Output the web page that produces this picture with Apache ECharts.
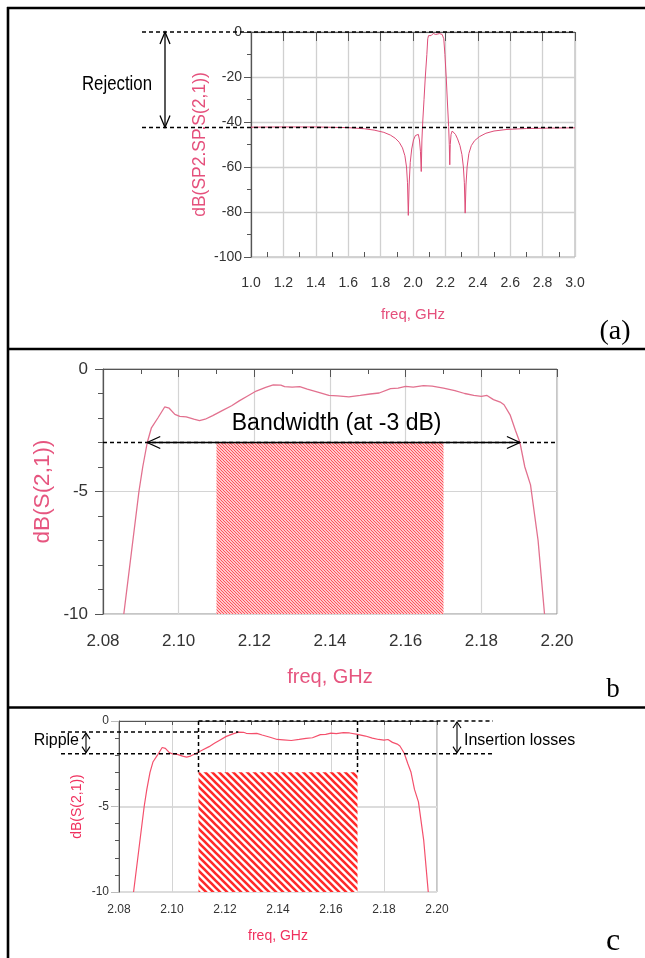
<!DOCTYPE html>
<html><head><meta charset="utf-8">
<script src="https://cdn.jsdelivr.net/npm/echarts@6/dist/echarts.min.js"></script>
<style>html,body{margin:0;padding:0;background:#fff}#c{width:645px;height:958px}</style>
</head><body><div id="c"></div>
<script>
// ---------- Panel (a): wide-band response ----------
const freqA = [1.00,1.20,1.40,1.60,1.70,1.76,1.82,1.86,1.89,1.915,1.935,1.950,1.960,1.966,1.971,1.976,1.983,1.992,2.003,2.015,2.025,2.033,2.040,2.046,2.051,2.055,2.060,2.068,2.076,2.0855,2.091,2.096,2.101,2.106,2.112,2.125,2.140,2.164,2.180,2.187,2.190,2.197,2.205,2.213,2.220,2.224,2.227,2.230,2.235,2.242,2.250,2.262,2.275,2.290,2.302,2.311,2.317,2.322,2.327,2.334,2.345,2.360,2.380,2.410,2.450,2.500,2.580,2.700,2.850,3.000];
const dbA   = [-42.3,-42.2,-42.2,-42.5,-43.0,-43.6,-44.6,-45.8,-47.2,-49.0,-51.5,-55.0,-60.0,-67.0,-81.5,-68.0,-58.0,-52.0,-48.0,-46.0,-45.2,-45.5,-48.0,-53.0,-62.0,-48.0,-40.0,-30.0,-20.0,-10.0,-3.0,-1.6,-2.0,-2.1,-1.6,-0.65,-1.1,-0.7,-1.1,-1.8,-3.0,-10.0,-20.0,-32.0,-42.0,-50.0,-59.0,-50.0,-45.5,-44.0,-44.2,-45.5,-47.5,-50.5,-54.5,-60.0,-67.0,-80.5,-68.0,-60.0,-54.0,-50.5,-48.3,-46.5,-45.0,-44.0,-43.3,-42.9,-42.7,-42.6];
const xRangeA = [1.0, 3.0];
const yRangeA = [-100, 0];
const xStepA = 0.2, yStepA = 20;
const rejectionLevel = -42.4;
const passTop = 0;

// ---------- Panels (b) and (c): pass-band detail ----------
const freqB = [2.0855,2.0875,2.0895,2.0905,2.0917,2.0928,2.0945,2.0963,2.0975,2.0990,2.1003,2.1020,2.1040,2.1055,2.1070,2.1090,2.1115,2.1140,2.1160,2.1180,2.1205,2.1230,2.1250,2.1270,2.1280,2.1300,2.1320,2.1340,2.1370,2.1397,2.1420,2.1450,2.1480,2.1506,2.1530,2.1560,2.1580,2.1600,2.1620,2.1647,2.1670,2.1700,2.1730,2.1756,2.1780,2.1800,2.1815,2.1832,2.1850,2.1860,2.1876,2.1890,2.1902,2.1915,2.1930,2.1950,2.1967];
const dbB   = [-10,-7.5,-5.0,-4.0,-3.0,-2.4,-2.0,-1.55,-1.6,-1.85,-1.93,-1.95,-2.05,-2.11,-2.05,-1.9,-1.7,-1.5,-1.3,-1.12,-0.9,-0.75,-0.65,-0.66,-0.72,-0.74,-0.72,-0.82,-0.95,-1.08,-1.1,-1.14,-1.08,-1.02,-0.98,-0.8,-0.78,-0.71,-0.74,-0.68,-0.7,-0.78,-0.88,-1.0,-1.08,-1.12,-1.08,-1.25,-1.35,-1.46,-1.87,-2.5,-3.0,-4.0,-4.73,-7.0,-10];
const xRangeB = [2.08, 2.20];
const yRangeB = [-10, 0];
const xStepB = 0.02, yStepB = 5;
const bwLevel = -3;
const bwEdges = [2.0917, 2.1902];
const band = [2.11, 2.17];
const rippleLevels = [-0.65, -1.91];
const rippleMaxFreq = 2.125;

const SANS = "'Liberation Sans',Arial,sans-serif";
const SERIF = "'Liberation Serif','Times New Roman',serif";

function hatch(s, lw, color) {
  const c = document.createElement('canvas');
  c.width = s; c.height = s;
  const ctx = c.getContext('2d');
  ctx.fillStyle = '#ffffff'; ctx.fillRect(0, 0, s, s);
  ctx.strokeStyle = color; ctx.lineWidth = lw;
  ctx.beginPath();
  ctx.moveTo(-s, 0); ctx.lineTo(s, 2 * s);
  ctx.moveTo(0, 0); ctx.lineTo(s, s);
  ctx.moveTo(0, -s); ctx.lineTo(2 * s, s);
  ctx.stroke();
  return { image: c, repeat: 'repeat' };
}

const zip = (xs, ys) => xs.map((x, i) => [x, ys[i]]);
const chart = echarts.init(document.getElementById('c'), null, { renderer: 'canvas' });

const option = {
  animation: false,
  backgroundColor: '#ffffff',
  grid: [
    { left: 251, top: 32, width: 324, height: 225, show: true, borderColor: '#a8a8a8', borderWidth: 1, outerBoundsMode: 'none' },
    { left: 103, top: 369, width: 454, height: 245, show: true, borderColor: '#8c8c8c', borderWidth: 1, outerBoundsMode: 'none' },
    { left: 119, top: 721, width: 318, height: 171, show: true, borderColor: '#8c8c8c', borderWidth: 1, outerBoundsMode: 'none' }
  ],
  xAxis: [
    { gridIndex: 0, type: 'value', position: 'bottom', min: xRangeA[0], max: xRangeA[1], interval: xStepA,
      axisLine: { show: true, lineStyle: { color: '#555', width: 1.2 } },
      axisTick: { show: true, length: 9, lineStyle: { color: '#555' } },
      splitLine: { show: true, lineStyle: { color: '#d0d0d0', width: 1.3 } },
      axisLabel: { formatter: v => v.toFixed(1), color: '#333', fontSize: 14, fontFamily: SANS, margin: 19, showMinLabel: true, showMaxLabel: true },
      name: 'freq, GHz', nameLocation: 'middle', nameGap: 50, nameMoveOverlap: false,
      nameTextStyle: { color: '#e5507c', fontSize: 15, fontFamily: SANS } },
    { gridIndex: 0, type: 'value', position: 'bottom', min: xRangeA[0], max: xRangeA[1], interval: xStepA,
      axisLine: { show: false }, axisTick: { show: false, inside: true },
      minorTick: { show: true, splitNumber: 2, length: 5, lineStyle: { color: '#555' } },
      axisLabel: { show: false }, splitLine: { show: false } },
    { gridIndex: 1, type: 'value', min: xRangeB[0], max: xRangeB[1], interval: xStepB,
      axisLine: { show: true, lineStyle: { color: '#555', width: 1.2 } },
      axisTick: { show: true, length: 8, lineStyle: { color: '#555' } },
      minorTick: { show: true, splitNumber: 2, length: 5, lineStyle: { color: '#555' } },
      splitLine: { show: true, lineStyle: { color: '#d4d4d4', width: 1.2 } },
      axisLabel: { formatter: v => v.toFixed(2), color: '#333', fontSize: 17, fontFamily: SANS, margin: 19 },
      name: 'freq, GHz', nameLocation: 'middle', nameGap: 53, nameMoveOverlap: false,
      nameTextStyle: { color: '#e6557f', fontSize: 20, fontFamily: SANS } },
    { gridIndex: 2, type: 'value', min: xRangeB[0], max: xRangeB[1], interval: xStepB,
      axisLine: { show: true, lineStyle: { color: '#555', width: 1 } },
      axisTick: { show: true, length: 4, lineStyle: { color: '#555' } },
      minorTick: { show: true, splitNumber: 2, length: 4, lineStyle: { color: '#555' } },
      splitLine: { show: true, lineStyle: { color: '#d4d4d4', width: 1 } },
      axisLabel: { formatter: v => v.toFixed(2), color: '#333', fontSize: 12, fontFamily: SANS, margin: 12 },
      name: 'freq, GHz', nameLocation: 'middle', nameGap: 37, nameMoveOverlap: false,
      nameTextStyle: { color: '#f0305e', fontSize: 14, fontFamily: SANS } }
  ],
  yAxis: [
    { gridIndex: 0, type: 'value', min: yRangeA[0], max: yRangeA[1], interval: yStepA,
      axisLine: { show: true, lineStyle: { color: '#555', width: 1.2 } },
      axisTick: { show: true, length: 7, lineStyle: { color: '#555' } },
      minorTick: { show: true, splitNumber: 2, length: 4, lineStyle: { color: '#555' } },
      splitLine: { show: true, lineStyle: { color: '#d0d0d0', width: 1.3 } },
      axisLabel: { color: '#333', fontSize: 14, fontFamily: SANS, margin: 9 },
      name: 'dB(SP2.SP.S(2,1))', nameLocation: 'middle', nameGap: 42, nameMoveOverlap: false,
      nameTextStyle: { color: '#e5507c', fontSize: 17.5, fontFamily: SANS } },
    { gridIndex: 1, type: 'value', min: yRangeB[0], max: yRangeB[1], interval: yStepB,
      axisLine: { show: true, lineStyle: { color: '#555', width: 1.2 } },
      axisTick: { show: true, length: 8, lineStyle: { color: '#555' } },
      minorTick: { show: true, splitNumber: 5, length: 5, lineStyle: { color: '#555' } },
      splitLine: { show: true, lineStyle: { color: '#d4d4d4', width: 1.2 } },
      axisLabel: { color: '#333', fontSize: 17, fontFamily: SANS, margin: 15 },
      name: 'dB(S(2,1))', nameLocation: 'middle', nameGap: 49, nameMoveOverlap: false,
      nameTextStyle: { color: '#e6557f', fontSize: 22.5, fontFamily: SANS } },
    { gridIndex: 2, type: 'value', min: yRangeB[0], max: yRangeB[1], interval: yStepB,
      axisLine: { show: true, lineStyle: { color: '#555', width: 1 } },
      axisTick: { show: true, length: 8, lineStyle: { color: '#bbb' } },
      minorTick: { show: true, splitNumber: 5, length: 4, lineStyle: { color: '#555' } },
      splitLine: { show: true, lineStyle: { color: '#dcdcdc', width: 2 } },
      axisLabel: { color: '#333', fontSize: 12, fontFamily: SANS, margin: 10 },
      name: 'dB(S(2,1))', nameLocation: 'middle', nameGap: 35, nameMoveOverlap: false,
      nameTextStyle: { color: '#f0305e', fontSize: 14, fontFamily: SANS } }
  ],
  series: [
    { type: 'line', xAxisIndex: 0, yAxisIndex: 0, data: zip(freqA, dbA), symbol: 'none',
      lineStyle: { color: '#de4d78', width: 1 }, z: 5 },
    { type: 'line', xAxisIndex: 2, yAxisIndex: 1, data: zip(freqB, dbB), symbol: 'none',
      lineStyle: { color: '#e2718f', width: 1.3 }, z: 5,
      markArea: { silent: true, itemStyle: { color: hatch(3, 1.2, '#ff4d55'), opacity: 1, borderWidth: 0 },
        data: [[{ coord: [band[0], bwLevel] }, { coord: [band[1], yRangeB[0]] }]] } },
    { type: 'line', xAxisIndex: 3, yAxisIndex: 2, data: zip(freqB, dbB), symbol: 'none',
      lineStyle: { color: '#f4506c', width: 1.2 }, z: 5,
      markArea: { silent: true, itemStyle: { color: hatch(7, 2.6, '#ff2a2a'), opacity: 1, borderWidth: 0 },
        data: [[{ coord: [band[0], bwLevel] }, { coord: [band[1], yRangeB[0]] }]] } }
  ]
};
chart.setOption(option);

// ---------- annotations positioned through the axes ----------
const P = (xi, yi, x, y) => chart.convertToPixel({ xAxisIndex: xi, yAxisIndex: yi }, [x, y]);
const G = [];
const DASH = { stroke: '#000', lineWidth: 1.5, lineDash: [4, 3] };
function line(x1, y1, x2, y2, style) {
  G.push({ type: 'line', silent: true, z: 100, shape: { x1, y1, x2, y2 }, style: Object.assign({}, style) });
}
function chevron(tx, ty, dx, dy, len, half, lw) {
  const px = -dy, py = dx;
  G.push({ type: 'polyline', silent: true, z: 100,
    shape: { points: [[tx + dx * len + px * half, ty + dy * len + py * half], [tx, ty], [tx + dx * len - px * half, ty + dy * len - py * half]] },
    style: { stroke: '#000', lineWidth: lw || 1.3, fill: null } });
}
function text(x, y, str, font, align, color, sx) {
  G.push({ type: 'text', silent: true, z: 100, x, y, scaleX: sx || 1,
    style: { text: str, font, fill: color || '#000', align: align || 'center', verticalAlign: 'middle' } });
}

// frame of the figure
line(8, 7, 8, 958, { stroke: '#000', lineWidth: 2.6 });
line(7, 8, 645, 8, { stroke: '#000', lineWidth: 2.6 });
line(7, 349, 645, 349, { stroke: '#000', lineWidth: 2.6 });
line(7, 707.5, 645, 707.5, { stroke: '#000', lineWidth: 2.6 });
text(615, 332, '(a)', '28px ' + SERIF);
text(613, 690, 'b', '27px ' + SERIF);
text(613, 942, 'c', '32px ' + SERIF);

// (a) rejection
{
  const t0 = P(0, 0, xRangeA[0], passTop), t1 = P(0, 0, xRangeA[1], passTop);
  const r0 = P(0, 0, xRangeA[0], rejectionLevel), r1 = P(0, 0, xRangeA[1], rejectionLevel);
  const lx = t0[0] - 109;
  line(lx, t0[1], t1[0], t1[1], DASH);
  line(lx, r0[1], r1[0], r1[1], DASH);
  const ax = t0[0] - 86;
  line(ax, t0[1], ax, r0[1], { stroke: '#000', lineWidth: 1.3 });
  chevron(ax, t0[1], 0, 1, 12, 5);
  chevron(ax, r0[1], 0, -1, 12, 5);
  text(ax - 48, (t0[1] + r0[1]) / 2 + 5, 'Rejection', '21px ' + SANS, 'center', '#000', 0.8);
}

// (b) bandwidth
{
  const l = P(2, 1, xRangeB[0], bwLevel), r = P(2, 1, xRangeB[1], bwLevel);
  const e0 = P(2, 1, bwEdges[0], bwLevel), e1 = P(2, 1, bwEdges[1], bwLevel);
  line(l[0], l[1], r[0], r[1], DASH);
  line(e0[0], e0[1], e1[0], e1[1], { stroke: '#000', lineWidth: 1.5 });
  chevron(e0[0], e0[1], 1, 0, 13, 6);
  chevron(e1[0], e1[1], -1, 0, 13, 6);
  text((e0[0] + e1[0]) / 2 + 3, e0[1] - 19, 'Bandwidth (at -3 dB)', '23px ' + SANS);
}

// (c) ripple and insertion losses
{
  const gL = P(3, 2, xRangeB[0], passTop)[0], gR = P(3, 2, xRangeB[1], passTop)[0];
  const y0 = P(3, 2, band[0], passTop)[1];
  const yU = P(3, 2, band[0], rippleLevels[0])[1];
  const yL = P(3, 2, band[0], rippleLevels[1])[1];
  const yB = P(3, 2, band[0], bwLevel)[1];
  const xb0 = P(3, 2, band[0], 0)[0], xb1 = P(3, 2, band[1], 0)[0];
  const xMax = P(3, 2, rippleMaxFreq, 0)[0];
  const left = gL - 58, right = gR + 56;
  line(xb0, y0, right, y0, DASH);
  line(left, yU, xMax, yU, DASH);
  line(left, yL, right, yL, DASH);
  line(xb0, y0, xb0, yB, DASH);
  line(xb1, y0, xb1, yB, DASH);
  const ra = gL - 33;
  line(ra, yU + 1, ra, yL - 1, { stroke: '#000', lineWidth: 1.1 });
  chevron(ra, yU + 1, 0, 1, 6, 4, 1.1);
  chevron(ra, yL - 1, 0, -1, 6, 4, 1.1);
  text(ra - 7, (yU + yL) / 2 - 2, 'Ripple', '16px ' + SANS, 'right');
  const ia = gR + 20;
  line(ia, y0 + 1, ia, yL - 1, { stroke: '#000', lineWidth: 1.1 });
  chevron(ia, y0 + 1, 0, 1, 6, 4, 1.1);
  chevron(ia, yL - 1, 0, -1, 6, 4, 1.1);
  text(ia + 7, (yU + yL) / 2 - 2, 'Insertion losses', '16px ' + SANS, 'left');
}
chart.setOption({ graphic: G });
</script>
</body></html>
